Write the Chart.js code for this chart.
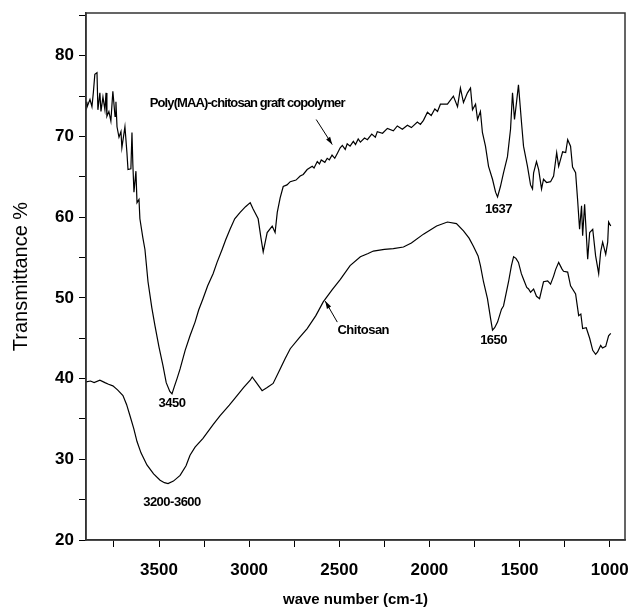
<!DOCTYPE html>
<html>
<head>
<meta charset="utf-8">
<script src="https://cdn.jsdelivr.net/npm/chart.js@4.4.1/dist/chart.umd.min.js"></script>
<style>
  html, body { margin: 0; padding: 0; background: #fff; }
</style>
</head>
<body>
<canvas id="ftirChart" width="631" height="614"></canvas>
<script>
// Spectre FTIR : copolymère greffé Poly(MAA)-chitosane et chitosane
const copolymerWn = [3905, 3900, 3883, 3872, 3864, 3856, 3844, 3839, 3828, 3822, 3811, 3800, 3794, 3789, 3778, 3767, 3756, 3744, 3739, 3733,
  3722, 3711, 3706, 3689, 3678, 3672, 3656, 3650, 3645, 3639, 3628, 3622, 3611, 3606, 3590, 3578, 3561, 3540, 3522, 3500,
  3478, 3460, 3440, 3428, 3415, 3400, 3383, 3355, 3328, 3300, 3280, 3256, 3230, 3200, 3178, 3150, 3130, 3106, 3080, 3050,
  3020, 2994, 2978, 2950, 2935, 2922, 2910, 2900, 2872, 2856, 2844, 2828, 2811, 2790, 2772, 2740, 2717, 2700, 2678, 2650,
  2640, 2622, 2610, 2600, 2580, 2567, 2555, 2540, 2525, 2511, 2495, 2483, 2467, 2456, 2440, 2422, 2410, 2395, 2383, 2360,
  2344, 2320, 2300, 2289, 2260, 2233, 2200, 2178, 2150, 2122, 2100, 2067, 2050, 2033, 2011, 1990, 1970, 1955, 1939,
  1900, 1867, 1844, 1828, 1811, 1789, 1772, 1761, 1744, 1733, 1717, 1706, 1689, 1672, 1650, 1633, 1622, 1606, 1589, 1567,
  1550, 1539, 1528, 1517, 1506, 1489, 1478, 1456, 1439, 1428, 1422, 1406, 1394, 1378, 1367, 1350, 1328, 1311, 1294, 1283,
  1261, 1244, 1233, 1217, 1206, 1189, 1178, 1167, 1156, 1150, 1139, 1122, 1111, 1094, 1078, 1061, 1050, 1039, 1022, 1011,
  1006, 994];
const copolymerT = [74.3, 73.6, 74.6, 73.7, 75.5, 77.7, 77.9, 73.3, 75.4, 73.1, 74.9, 73.3, 75.4, 72.5, 73.1, 71.9, 75.6, 72.5, 74.3, 71.2,
  69.9, 70.6, 68.6, 71.2, 68.0, 65.9, 66.0, 70.5, 66.5, 63.1, 65.7, 61.8, 62.2, 59.8, 57.5, 56.0, 52.0, 48.8, 46.5, 43.9,
  41.6, 39.5, 38.4, 38.1, 39.0, 40.0, 41.2, 43.5, 45.3, 47.0, 48.5, 49.9, 51.5, 53.0, 54.4, 56.0, 57.2, 58.5, 59.8, 60.6,
  61.3, 61.8, 61.0, 59.8, 57.5, 55.7, 57.0, 58.1, 58.9, 58.1, 60.6, 62.4, 63.8, 64.0, 64.4, 64.6, 65.1, 65.3, 65.9, 66.3,
  66.1, 66.9, 66.6, 67.1, 66.8, 67.3, 67.1, 67.7, 67.3, 67.9, 68.6, 68.9, 68.4, 69.1, 68.8, 69.4, 69.0, 69.7, 69.3, 69.8,
  69.6, 70.3, 69.9, 70.6, 70.4, 71.0, 70.7, 71.3, 70.9, 71.4, 71.1, 71.8, 71.5, 72.0, 73.0, 72.6, 73.4, 73.1, 74.0,
  74.0, 75.0, 73.7, 76.0, 74.2, 75.4, 76.0, 73.3, 74.0, 72.1, 73.1, 70.5, 68.8, 66.3, 64.7, 63.1, 62.5, 63.8, 65.5, 67.5,
  70.9, 75.4, 72.1, 74.2, 76.4, 71.7, 68.8, 66.3, 64.0, 63.5, 65.5, 66.9, 65.9, 63.5, 64.7, 64.3, 64.4, 65.1, 68.0, 66.3,
  68.1, 68.0, 69.6, 68.8, 66.2, 65.5, 62.2, 58.5, 61.4, 57.7, 61.6, 54.8, 58.1, 58.5, 55.2, 53.0, 55.7, 56.9, 55.4, 56.9,
  59.4, 58.9];

const chitosanWn = [3905, 3880, 3860, 3828, 3800, 3780, 3756, 3730, 3700, 3680, 3661, 3640, 3622, 3600, 3567, 3530, 3494, 3470, 3450, 3420,
  3383, 3350, 3328, 3300, 3256, 3200, 3161, 3110, 3067, 3030, 2994, 2983, 2960, 2928, 2900, 2867, 2828, 2800, 2772, 2720,
  2678, 2630, 2589, 2540, 2494, 2440, 2383, 2340, 2311, 2250, 2200, 2144, 2100, 2033, 1960, 1900, 1850, 1811, 1780, 1756,
  1730, 1717, 1700, 1678, 1661, 1650, 1638, 1622, 1600, 1589, 1561, 1545, 1533, 1520, 1506, 1490, 1478, 1460, 1450, 1439,
  1422, 1406, 1389, 1367, 1344, 1328, 1311, 1300, 1283, 1265, 1256, 1233, 1217, 1189, 1172, 1160, 1150, 1130, 1111, 1094,
  1078, 1067, 1050, 1040, 1022, 1006, 994];
const chitosanT = [39.6, 39.7, 39.5, 39.8, 39.5, 39.3, 39.1, 38.6, 37.9, 36.8, 35.4, 33.8, 32.2, 30.8, 29.3, 28.2, 27.4, 27.1, 27.0, 27.3,
  28.0, 29.2, 30.5, 31.5, 32.6, 34.3, 35.4, 36.7, 37.9, 38.9, 39.8, 40.2, 39.5, 38.5, 38.9, 39.4, 41.2, 42.5, 43.7, 45.1,
  46.2, 47.8, 49.5, 51.0, 52.3, 54.0, 55.1, 55.5, 55.8, 56.0, 56.1, 56.3, 56.8, 57.9, 58.9, 59.4, 59.2, 58.3, 57.4, 56.4,
  55.2, 54.0, 52.0, 49.9, 47.5, 46.0, 46.3, 47.0, 48.6, 49.0, 52.0, 54.0, 55.1, 54.9, 54.4, 53.0, 52.3, 51.3, 51.1, 50.7,
  51.1, 50.2, 49.9, 52.0, 52.1, 51.7, 52.7, 53.5, 54.4, 53.6, 53.3, 53.2, 51.5, 50.5, 47.8, 48.0, 46.2, 46.3, 45.0, 43.5,
  43.0, 43.3, 44.1, 43.8, 44.0, 45.3, 45.6];

// Graduations (majeures étiquetées, mineures sans texte)
const xTicks = [3750, 3500, 3250, 3000, 2750, 2500, 2250, 2000, 1750, 1500, 1250, 1000];
const xLabelled = [3500, 3000, 2500, 2000, 1500, 1000];
const yTicks = [20, 25, 30, 35, 40, 45, 50, 55, 60, 65, 70, 75, 80, 85];
const yLabelled = [20, 30, 40, 50, 60, 70, 80];

// Annotations (texte, nombre d'onde, transmittance)
const labelTexts = ['Poly(MAA)-chitosan graft copolymer', '1637', '3450', 'Chitosan', '1650', '3200-3600'];
const labelWn = [3011, 1617, 3428, 2367, 1644, 3428];
const labelT = [74.1, 61.0, 36.9, 46.0, 44.7, 24.7];

// Flèches (queue -> pointe)
const arrowFromWn = [2628, 2511];
const arrowFromT = [72.1, 47.0];
const arrowToWn = [2539, 2578];
const arrowToT = [69.0, 49.6];

const FONT = "'Liberation Sans', Arial, sans-serif";

function toPoints(xs, ys) {
    return xs.map((x, i) => ({ x: x, y: ys[i] }));
}

const framePlugin = {
    id: 'frame',
    afterDraw(chart) {
        const { ctx, chartArea: a } = chart;
        ctx.save();
        ctx.strokeStyle = '#333';
        ctx.lineWidth = 1.5;
        ctx.strokeRect(a.left, a.top, a.right - a.left, a.bottom - a.top);
        ctx.restore();
    }
};

const annotationPlugin = {
    id: 'annotations',
    afterDatasetsDraw(chart) {
        const { ctx, scales: { x, y } } = chart;
        ctx.save();
        ctx.fillStyle = '#000';
        ctx.textAlign = 'center';
        ctx.textBaseline = 'middle';
        ctx.font = 'bold 13px ' + FONT;
        labelTexts.forEach((txt, i) => {
            ctx.letterSpacing = txt.length > 12 ? '-0.9px' : '-0.5px';
            ctx.fillText(txt, x.getPixelForValue(labelWn[i]), y.getPixelForValue(labelT[i]));
        });
        ctx.letterSpacing = '0px';

        ctx.strokeStyle = '#000';
        ctx.lineWidth = 1;
        arrowFromWn.forEach((wn, i) => {
            const x0 = x.getPixelForValue(wn), y0 = y.getPixelForValue(arrowFromT[i]);
            const x1 = x.getPixelForValue(arrowToWn[i]), y1 = y.getPixelForValue(arrowToT[i]);
            const ang = Math.atan2(y1 - y0, x1 - x0);
            ctx.beginPath();
            ctx.moveTo(x0, y0);
            ctx.lineTo(x1, y1);
            ctx.stroke();
            ctx.beginPath();
            ctx.moveTo(x1, y1);
            ctx.lineTo(x1 - 8 * Math.cos(ang - 0.3), y1 - 8 * Math.sin(ang - 0.3));
            ctx.lineTo(x1 - 8 * Math.cos(ang + 0.3), y1 - 8 * Math.sin(ang + 0.3));
            ctx.closePath();
            ctx.fill();
        });
        ctx.restore();
    }
};

const ctx = document.getElementById('ftirChart').getContext('2d');
new Chart(ctx, {
    type: 'line',
    data: {
        datasets: [{
            label: 'Poly(MAA)-chitosan graft copolymer',
            data: toPoints(copolymerWn, copolymerT),
            borderColor: '#000',
            borderWidth: 1.2,
            pointRadius: 0,
            tension: 0
        }, {
            label: 'Chitosan',
            data: toPoints(chitosanWn, chitosanT),
            borderColor: '#000',
            borderWidth: 1.2,
            pointRadius: 0,
            tension: 0
        }]
    },
    options: {
        responsive: false,
        animation: false,
        layout: { padding: { top: 13, right: 6, left: 0, bottom: 0 } },
        plugins: {
            legend: { display: false },
            tooltip: { enabled: false }
        },
        scales: {
            x: {
                type: 'linear',
                reverse: true,
                min: 915,
                max: 3905,
                border: { display: true, color: '#333', width: 1.5 },
                grid: { drawOnChartArea: false, drawTicks: true, tickLength: 7, color: '#000' },
                afterBuildTicks: s => { s.ticks = xTicks.map(v => ({ value: v })); },
                ticks: {
                    autoSkip: false,
                    maxRotation: 0,
                    padding: 13,
                    color: '#000',
                    font: { family: FONT, size: 17, weight: 'bold' },
                    callback: v => (xLabelled.includes(v) ? String(v) : '')
                },
                title: {
                    display: true,
                    text: 'wave number (cm-1)',
                    color: '#000',
                    font: { family: FONT, size: 15, weight: 'bold' },
                    padding: { top: 0, bottom: 5 }
                },
                afterFit: s => {
                    s.height = 74;
                    s.paddingLeft = 0;
                    s.paddingRight = 0;
                }
            },
            y: {
                min: 20,
                max: 85.3,
                border: { display: true, color: '#333', width: 1.5 },
                grid: { drawOnChartArea: false, drawTicks: true, tickLength: 7, color: '#000' },
                afterBuildTicks: s => { s.ticks = yTicks.map(v => ({ value: v })); },
                ticks: {
                    autoSkip: false,
                    padding: 5,
                    color: '#000',
                    font: { family: FONT, size: 17, weight: 'bold' },
                    callback: v => (yLabelled.includes(v) ? String(v) : '')
                },
                title: {
                    display: true,
                    text: 'Transmittance %',
                    color: '#000',
                    font: { family: FONT, size: 20 },
                    padding: { top: 9, bottom: 0 }
                },
                afterFit: s => {
                    s.width = 86;
                    s.paddingTop = 0;
                    s.paddingBottom = 0;
                }
            }
        }
    },
    plugins: [framePlugin, annotationPlugin]
});
</script>
</body>
</html>
